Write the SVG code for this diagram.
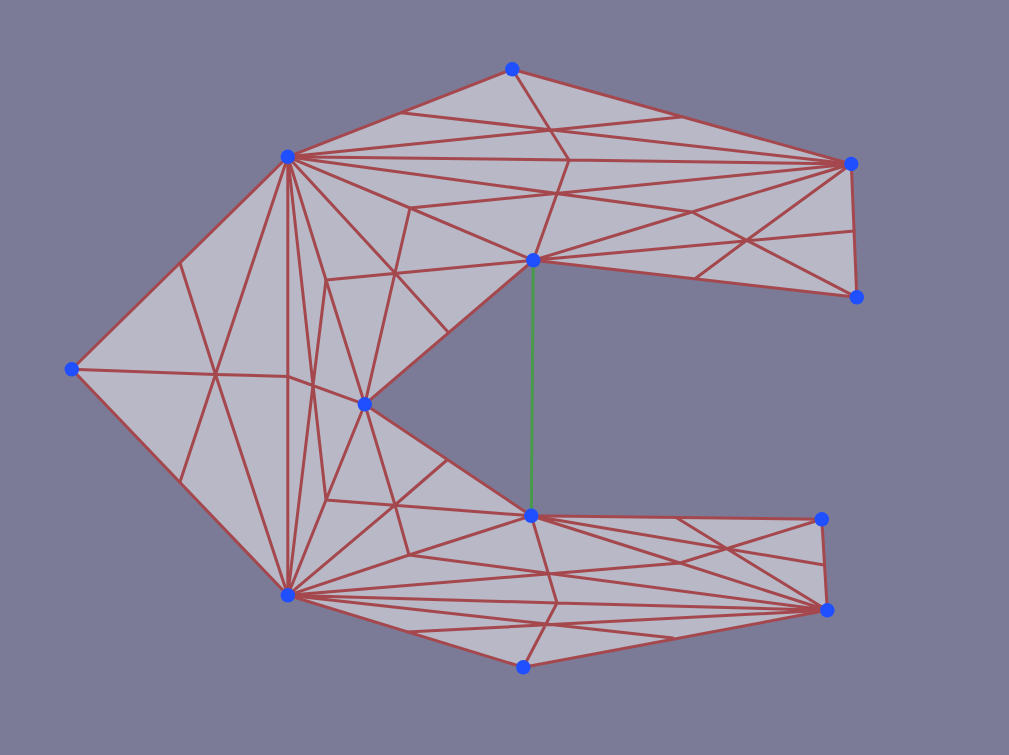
<svg xmlns="http://www.w3.org/2000/svg" width="1009" height="755" viewBox="0 0 1009 755">
<style>
.e{fill:none;stroke:#a5484e;stroke-width:3;stroke-linecap:round;stroke-linejoin:round}
.g{fill:none;stroke:#479a49;stroke-width:3}
.n{fill:#1f4fff}
</style>
<rect width="1009" height="755" fill="#7b7b98"/>
<polygon fill="#b8b8c6" points="287.8,156.8 512.3,69.3 851.3,164 856.8,297.3 533.3,260.3 364.8,404.3 531.3,515.8 821.8,519.3 827.3,610.3 523.3,667.3 287.8,595.3 71.8,369.3"/>
<g id="connectors">
<path class="g" d="M533.3,260.3L531.3,515.8"/>
<path class="e" d="M287.8,156.8L512.3,69.3L851.3,164L856.8,297.3L533.3,260.3L364.8,404.3L531.3,515.8L821.8,519.3L827.3,610.3L523.3,667.3L287.8,595.3L71.8,369.3Z"/>
<path class="e" d="M401,112.7L851.3,164M681,117L287.8,156.8M512.3,69.3L569,160L533.3,260.3M287.8,156.8L569,160L851.3,164"/>
<path class="e" d="M287.8,156.8L692,212L856.8,297.3M410,208L851.3,164M533.3,260.3L692,212L851.3,164M533.3,260.3L854,231M851.3,164L747,240L696,278"/>
<path class="e" d="M287.8,156.8L410,208L533.3,260.3M410,208L395,273L364.8,404.3M287.8,156.8L395,273L448,332M326,280L533.3,260.3M287.8,156.8L326,280L364.8,404.3"/>
<path class="e" d="M326,280L313,385L287.8,595.3M287.8,156.8L313,385L326,500M326,500L287.8,595.3M326,500L364.8,404.3M71.8,369.3L215.5,374.5L288,376.5L364.8,404.3"/>
<path class="e" d="M287.8,156.8L287.8,595.3M287.8,156.8L215.5,374.5L180,482M287.8,595.3L215.5,374.5L180,263"/>
<path class="e" d="M364.8,404.3L395,505L409,555M326,500L531.3,515.8M287.8,595.3L395,505L447,460M287.8,595.3L409,555L531.3,515.8"/>
<path class="e" d="M409,555L827.3,610.3M287.8,595.3L680,563L821.8,519.3M531.3,515.8L680,563L827.3,610.3M531.3,515.8L824,565M677,518L827.3,610.3"/>
<path class="e" d="M531.3,515.8L557,603L523.3,667.3M287.8,595.3L557,603L827.3,610.3M287.8,595.3L673,638M407,632L827.3,610.3"/>
</g>
<g id="n1"><circle class="n" cx="287.8" cy="156.8" r="7.2"/></g>
<g id="n2"><circle class="n" cx="512.3" cy="69.3" r="7.2"/></g>
<g id="n3"><circle class="n" cx="851.3" cy="164" r="7.2"/></g>
<g id="n4"><circle class="n" cx="856.8" cy="297.3" r="7.2"/></g>
<g id="n5"><circle class="n" cx="533.3" cy="260.3" r="7.2"/></g>
<g id="n6"><circle class="n" cx="364.8" cy="404.3" r="7.2"/></g>
<g id="n7"><circle class="n" cx="531.3" cy="515.8" r="7.2"/></g>
<g id="n8"><circle class="n" cx="821.8" cy="519.3" r="7.2"/></g>
<g id="n9"><circle class="n" cx="827.3" cy="610.3" r="7.2"/></g>
<g id="n10"><circle class="n" cx="523.3" cy="667.3" r="7.2"/></g>
<g id="n11"><circle class="n" cx="287.8" cy="595.3" r="7.2"/></g>
<g id="n12"><circle class="n" cx="71.8" cy="369.3" r="7.2"/></g>
</svg>
